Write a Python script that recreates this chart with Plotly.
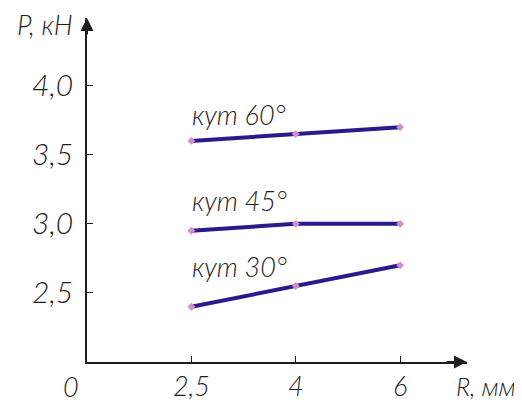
import plotly.graph_objects as go

# ---- data ----
R_categories = ["0", "2,5", "4", "6"]      # x axis categories (equal spacing)
R_values = ["2,5", "4", "6"]               # R, мм
P_30 = [2.40, 2.55, 2.70]                  # P, кН, кут 30°
P_45 = [2.95, 3.00, 3.00]                  # P, кН, кут 45°
P_60 = [3.60, 3.65, 3.70]                  # P, кН, кут 60°
series_names = ["кут 30°", "кут 45°", "кут 60°"]
P_tickvals = [2.5, 3.0, 3.5, 4.0]
P_ticktext = ["2,5", "3,0", "3,5", "4,0"]

FONT = "Lato, Liberation Sans, Arial, sans-serif"
INK = "#1e1e1e"
LINE = "#2b1a8c"
MARK = "#d48ec4"


def tfont(size):
    return dict(family=FONT, size=size, color=INK, style="italic", weight=300)


fig = go.Figure()
for name, ys in zip(series_names, [P_30, P_45, P_60]):
    fig.add_trace(go.Scatter(
        x=R_values, y=ys, mode="lines+markers", name=name,
        line=dict(color=LINE, width=4),
        marker=dict(symbol="diamond", size=6, color=MARK),
        showlegend=False,
    ))

# series labels
label_pos = {"кут 60°": 3.79, "кут 45°": 3.17, "кут 30°": 2.69}
for name in series_names:
    fig.add_annotation(x=1, y=label_pos[name], xref="x", yref="y",
                       text=name, showarrow=False, xanchor="left", yanchor="middle",
                       xshift=-1, font=tfont(27))

# axis titles
fig.add_annotation(x=-0.11, y=0.98, xref="paper", yref="paper", text="P, кН",
                   showarrow=False, xanchor="center", yanchor="middle", font=tfont(27))
fig.add_annotation(x=1.05, y=-0.07, xref="paper", yref="paper", text="R, мм",
                   showarrow=False, xanchor="center", yanchor="middle", font=tfont(25))
# origin label
fig.add_annotation(x=0, y=0, xref="x", yref="paper", text=R_categories[0],
                   showarrow=False, xanchor="center", yanchor="middle",
                   xshift=-16, yshift=-24, font=tfont(27))

# arrow heads
fig.add_annotation(x=1, y=0, xref="paper", yref="paper", ax=-22, ay=0,
                   showarrow=True, arrowhead=2, arrowsize=1.3, arrowwidth=2,
                   arrowcolor=INK, text="")
fig.add_annotation(x=0, y=1, xref="paper", yref="paper", ax=0, ay=18,
                   showarrow=True, arrowhead=2, arrowsize=1.3, arrowwidth=2,
                   arrowcolor=INK, text="")

fig.update_xaxes(type="category", categoryorder="array", categoryarray=R_categories,
                 range=[0, 3.64], tickmode="array", tickvals=R_values, ticktext=R_values,
                 showline=True, linecolor=INK, linewidth=1.5, showgrid=False, zeroline=False,
                 ticks="inside", ticklen=6, tickcolor=INK, tickwidth=1, automargin=False,
                 tickfont=tfont(27))
fig.update_yaxes(range=[2.0, 4.49], tickmode="array", tickvals=P_tickvals, ticktext=P_ticktext,
                 showline=True, linecolor=INK, linewidth=1.5, showgrid=False, zeroline=False,
                 ticks="inside", ticklen=6, tickcolor=INK, tickwidth=1, automargin=False,
                 ticklabelstandoff=6, tickfont=tfont(30))

# page body adds an 8px offset, so the figure is sized to fit the 522x402 window
fig.update_layout(width=514, height=394, margin=dict(l=79, r=55, t=10, b=40),
                  plot_bgcolor="white", paper_bgcolor="white")
fig.write_html("out.html")
